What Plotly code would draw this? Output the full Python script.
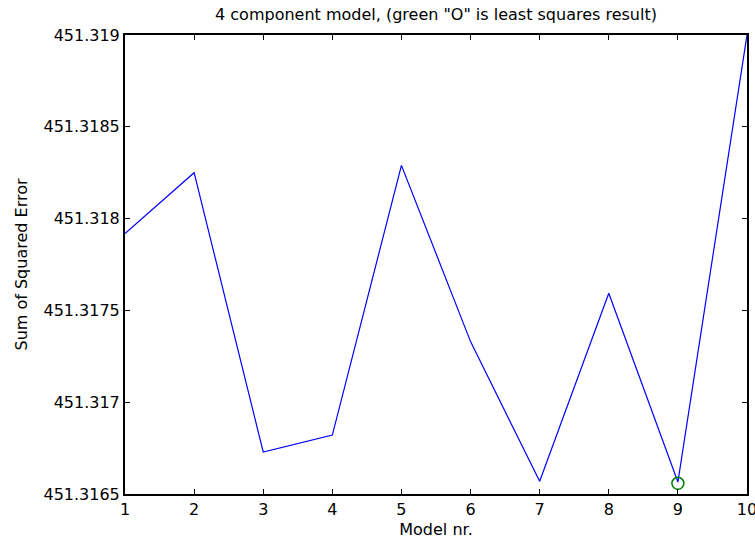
import plotly.graph_objects as go

model_nr = [1, 2, 3, 4, 5, 6, 7, 8, 9, 10]
sse = [451.317918, 451.318250, 451.316729, 451.316821, 451.318290,
       451.317330, 451.316569, 451.317593, 451.316565, 451.319000]
ls_x = [9]
ls_y = [451.316558]
y_tick_vals = [451.3165, 451.317, 451.3175, 451.318, 451.3185, 451.319]
y_tick_text = ["451.3165", "451.317", "451.3175", "451.318", "451.3185", "451.319"]
x_tick_vals = [1, 2, 3, 4, 5, 6, 7, 8, 9, 10]

font = "DejaVu Sans, Liberation Sans, Arial, sans-serif"

fig = go.Figure()
fig.add_trace(go.Scatter(x=model_nr, y=sse, mode="lines",
                         line=dict(color="#0000ff", width=1.2), showlegend=False))
fig.add_trace(go.Scatter(x=ls_x, y=ls_y, mode="markers",
                         marker=dict(symbol="circle-open", size=12, color="#008000",
                                     line=dict(width=1.5, color="#008000")),
                         showlegend=False, cliponaxis=False))

fig.update_layout(
    width=755, height=542,
    margin=dict(l=125, r=8, t=35, b=48, autoexpand=False),
    paper_bgcolor="white", plot_bgcolor="white",
    font=dict(family=font, size=16, color="black"),
    title=dict(text='4 component model, (green "O" is least squares result)',
               x=(125 + 747) / 2 / 755, xanchor="center",
               y=1 - 14 / 542, yanchor="middle", yref="container",
               font=dict(size=16, color="black")),
    xaxis=dict(range=[1, 10], tickvals=x_tick_vals, ticks="inside", ticklen=5,
               tickcolor="black", showline=True, linecolor="black", linewidth=2,
               mirror="ticks", showgrid=False, zeroline=False, automargin=False,
               ticklabeloverflow="allow",
               title=dict(text="Model nr.", standoff=6, font=dict(size=16))),
    yaxis=dict(range=[451.3165, 451.319], tickvals=y_tick_vals, ticktext=y_tick_text,
               ticks="inside", ticklen=5, tickcolor="black", showline=True,
               linecolor="black", linewidth=2, mirror="ticks", showgrid=False,
               zeroline=False, automargin=False, ticklabeloverflow="allow",
               title=dict(text="Sum of Squared Error", standoff=12, font=dict(size=16))),
)

fig.write_html("out.html")
